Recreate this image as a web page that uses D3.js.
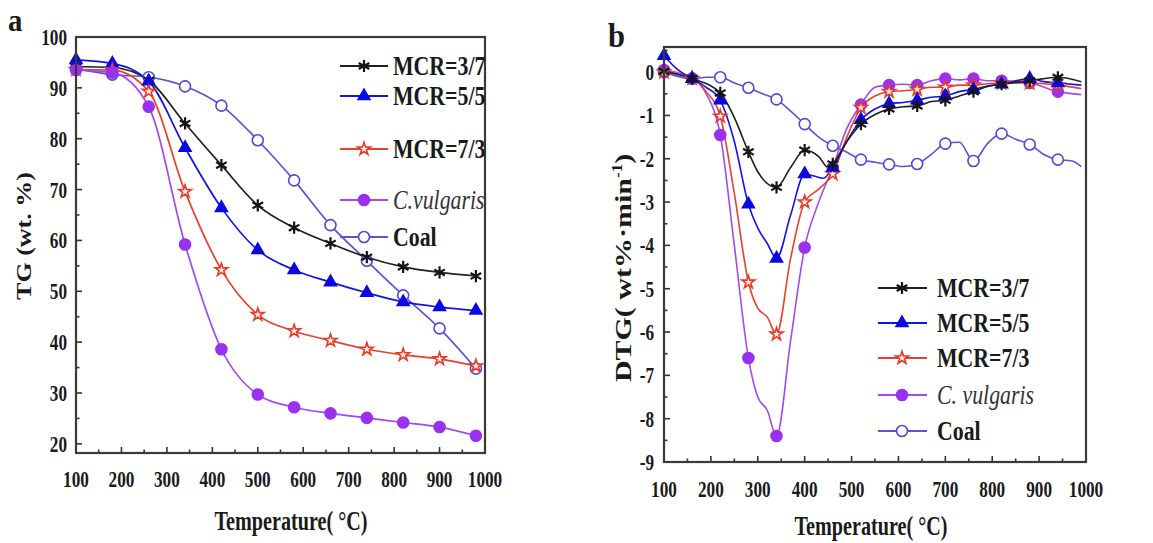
<!DOCTYPE html>
<html><head><meta charset="utf-8">
<script src="https://cdn.jsdelivr.net/npm/d3@7"></script>
<style>
body{margin:0;background:#fff;}
svg{display:block;}
text{font-family:"Liberation Serif","Times New Roman",serif;fill:#1a1a1a;}
</style>
</head><body>
<svg id="c" width="1153" height="543"></svg>
<script>
// ---------------- DATA ----------------
const seriesNamesA = ["MCR=3/7","MCR=5/5","MCR=7/3","C.vulgaris","Coal"];
const seriesNamesB = ["MCR=3/7","MCR=5/5","MCR=7/3","C. vulgaris","Coal"];

// (a) TG curves, wt.%
const tgTemps   = [100,180,260,340,420,500,580,660,740,820,900,980];
const tgMCR37   = [94.2,94.0,91.5,83.0,74.8,66.9,62.5,59.4,56.7,54.8,53.7,53.0];
const tgMCR55   = [95.5,94.8,91.3,78.2,66.4,58.1,54.2,51.8,49.7,47.9,46.9,46.2];
const tgMCR73   = [93.6,93.5,89.3,69.6,54.2,45.4,42.2,40.3,38.6,37.5,36.7,35.3];
const tgCV      = [93.5,93.0,86.3,59.2,38.6,29.7,27.2,26.0,25.1,24.2,23.3,21.6];
const tgCoal    = [93.8,92.6,92.1,90.3,86.5,79.7,71.8,63.0,56.0,49.2,42.7,34.8];

// (b) DTG curves, wt%/min  ([temperature, value])
const dtgMarkerTemps = [100,160,220,280,340,400,460,520,580,640,700,760,820,880,940];
const dtgMCR37 = [[100,0.02],[160,-0.15],[220,-0.48],[250,-1.05],[280,-1.84],[300,-2.3],[340,-2.66],[370,-2.2],[400,-1.8],[430,-1.95],[450,-2.2],[460,-2.12],[490,-1.6],[520,-1.2],[550,-0.98],[580,-0.85],[610,-0.8],[640,-0.78],[670,-0.68],[700,-0.65],[730,-0.55],[760,-0.45],[790,-0.33],[820,-0.28],[880,-0.2],[940,-0.12],[990,-0.22]];
const dtgMCR55 = [[100,0.38],[130,0.05],[160,-0.15],[190,-0.35],[220,-0.65],[250,-1.6],[280,-3.05],[300,-3.6],[320,-3.95],[340,-4.3],[370,-3.3],[400,-2.35],[420,-2.4],[440,-2.45],[460,-2.2],[490,-1.6],[520,-1.1],[550,-0.85],[580,-0.73],[610,-0.7],[640,-0.65],[670,-0.58],[700,-0.55],[730,-0.45],[760,-0.4],[790,-0.32],[820,-0.28],[850,-0.2],[880,-0.15],[910,-0.22],[940,-0.25],[990,-0.3]];
const dtgMCR73 = [[100,0.0],[160,-0.15],[190,-0.45],[220,-1.02],[250,-2.8],[280,-4.85],[300,-5.45],[320,-5.65],[340,-6.05],[370,-4.3],[400,-3.0],[430,-2.7],[460,-2.35],[490,-1.5],[520,-0.82],[550,-0.55],[580,-0.45],[610,-0.43],[640,-0.4],[670,-0.35],[700,-0.35],[730,-0.3],[760,-0.3],[790,-0.27],[820,-0.25],[880,-0.25],[940,-0.3],[990,-0.38]];
const dtgCV    = [[100,0.05],[160,-0.15],[190,-0.5],[220,-1.45],[250,-4.0],[280,-6.6],[300,-7.5],[320,-7.8],[340,-8.4],[370,-6.2],[400,-4.05],[430,-3.0],[460,-2.2],[490,-1.3],[520,-0.75],[550,-0.35],[580,-0.3],[610,-0.28],[640,-0.3],[670,-0.2],[700,-0.15],[730,-0.18],[760,-0.15],[790,-0.2],[820,-0.2],[880,-0.25],[940,-0.45],[990,-0.52]];
const dtgCoal  = [[100,0.0],[160,-0.15],[190,-0.12],[220,-0.12],[250,-0.25],[280,-0.36],[310,-0.5],[340,-0.63],[370,-0.9],[400,-1.2],[430,-1.5],[460,-1.7],[490,-1.85],[520,-2.02],[550,-2.08],[580,-2.13],[610,-2.18],[640,-2.12],[670,-1.9],[700,-1.65],[730,-1.62],[760,-2.05],[790,-1.65],[820,-1.42],[850,-1.55],[880,-1.67],[910,-1.9],[940,-2.02],[970,-2.05],[990,-2.18]];

const xTicks = [100,200,300,400,500,600,700,800,900,1000];
const tgYTicks = [20,30,40,50,60,70,80,90,100];
const dtgYTicks = [-9,-8,-7,-6,-5,-4,-3,-2,-1,0];

// ---------------- STYLE ----------------
const lineColors   = ["#202020","#1212e6","#e8402c","#a548f2","#5b52da"];
const markerColors = ["#151515","#0a0ae0","#e83a28","#9a30f0","#5048d8"];
const markerFills  = ["none","#0a0ae0","#fff4f0","#9a30f0","#ffffff"];
const symbols = [d3.symbolAsterisk, d3.symbolTriangle, d3.symbolStar, d3.symbolCircle, d3.symbolCircle];
const symSizes = [105, 62, 50, 95, 95];

const svg = d3.select("#c");

function ctext(g, x, y, str, size, anchor, sx, opts) {
  opts = opts || {};
  const t = g.append("text")
    .attr("transform", `translate(${x},${y}) scale(${sx},1)`)
    .attr("text-anchor", anchor)
    .style("font-size", size + "px")
    .style("font-weight", opts.weight || "bold")
    .style("font-style", opts.style || "normal")
    .text(str);
  if (opts.fill) t.style("fill", opts.fill);
  return t;
}

function drawMarker(g, i, x, y) {
  g.append("path")
    .attr("d", d3.symbol().type(symbols[i]).size(symSizes[i])())
    .attr("transform", `translate(${x},${y})`)
    .attr("fill", markerFills[i])
    .attr("stroke", markerColors[i])
    .attr("stroke-width", i === 0 ? 2.2 : 1.6);
}

function frameAndAxes(g, x, y, yTicks, yMinor, xMinor) {
  const [x0, x1] = x.range(), [y0, y1] = y.range();
  xTicks.forEach(v => g.append("line").attr("x1", x(v)).attr("x2", x(v)).attr("y1", y0).attr("y2", y0 - 6).attr("stroke", "#333").attr("stroke-width", 1.6));
  xMinor.forEach(v => g.append("line").attr("x1", x(v)).attr("x2", x(v)).attr("y1", y0).attr("y2", y0 - 3.5).attr("stroke", "#333").attr("stroke-width", 1.6));
  yTicks.forEach(v => g.append("line").attr("x1", x0).attr("x2", x0 + 6).attr("y1", y(v)).attr("y2", y(v)).attr("stroke", "#333").attr("stroke-width", 1.6));
  yMinor.forEach(v => g.append("line").attr("x1", x0).attr("x2", x0 + 3.5).attr("y1", y(v)).attr("y2", y(v)).attr("stroke", "#333").attr("stroke-width", 1.6));
  g.append("rect").attr("x", x0).attr("y", y1).attr("width", x1 - x0).attr("height", y0 - y1)
    .attr("fill", "none").attr("stroke", "#3a3a3a").attr("stroke-width", 2.2);
}

// ---------------- PANEL A ----------------
(function(){
  const g = svg.append("g");
  const x = d3.scaleLinear().domain([100, 1000]).range([76, 485]);
  const y = d3.scaleLinear().domain([18.2, 100]).range([453, 37]);
  const series = [tgMCR37, tgMCR55, tgMCR73, tgCV, tgCoal];
  const line = d3.line().x(d => x(d[0])).y(d => y(d[1])).curve(d3.curveMonotoneX);
  const order = [4, 0, 1, 2, 3];
  order.forEach(i => {
    const pts = tgTemps.map((t, k) => [t, series[i][k]]);
    g.append("path").attr("d", line(pts)).attr("fill", "none").attr("stroke", lineColors[i]).attr("stroke-width", 1.7);
  });
  order.forEach(i => {
    tgTemps.forEach((t, k) => drawMarker(g, i, x(t), y(series[i][k])));
  });
  frameAndAxes(g, x, y, tgYTicks, d3.range(25, 100, 10), d3.range(150, 1000, 100));
  tgYTicks.forEach(v => ctext(g, 67, y(v) + 8, String(v), 23, "end", 0.75));
  xTicks.forEach(v => ctext(g, x(v), 487, String(v), 23, "middle", 0.75));
  ctext(g, 291, 530, "Temperature( °C)", 28, "middle", 0.72);
  g.append("text").attr("transform", "translate(31,236) rotate(-90) scale(1,0.8)")
    .attr("text-anchor", "middle").style("font-size", "26px").style("font-weight", "bold").text("TG (wt. %)");
  ctext(g, 8, 31, "a", 32, "start", 0.9);
  // legend
  const rows = [66, 96, 149, 200, 237];
  seriesNamesA.forEach((n, i) => {
    g.append("line").attr("x1", 340).attr("x2", 388).attr("y1", rows[i]).attr("y2", rows[i]).attr("stroke", lineColors[i]).attr("stroke-width", 2);
    drawMarker(g, i, 364, rows[i]);
    if (i === 3) ctext(g, 393, rows[i] + 9, n, 28, "start", 0.78, {weight: "normal", style: "italic", fill: "#333"});
    else ctext(g, 393, rows[i] + 9, n, 28, "start", 0.78);
  });
})();

// ---------------- PANEL B ----------------
(function(){
  const g = svg.append("g");
  const x = d3.scaleLinear().domain([100, 1000]).range([664, 1086]);
  const y = d3.scaleLinear().domain([-9, 0.58]).range([462, 47]);
  const series = [dtgMCR37, dtgMCR55, dtgMCR73, dtgCV, dtgCoal];
  const line = d3.line().x(d => x(d[0])).y(d => y(d[1])).curve(d3.curveMonotoneX);
  const order = [4, 3, 2, 1, 0];
  order.forEach(i => {
    g.append("path").attr("d", line(series[i])).attr("fill", "none").attr("stroke", lineColors[i]).attr("stroke-width", 1.6);
  });
  order.forEach(i => {
    series[i].filter(d => dtgMarkerTemps.includes(d[0])).forEach(d => drawMarker(g, i, x(d[0]), y(d[1])));
  });
  frameAndAxes(g, x, y, dtgYTicks, d3.range(-8.5, 0.6, 1), d3.range(150, 1000, 100));
  dtgYTicks.forEach(v => ctext(g, 654, y(v) + 8, String(v), 23, "end", 0.75));
  xTicks.forEach(v => ctext(g, x(v), 497, String(v), 23, "middle", 0.75));
  ctext(g, 871, 535, "Temperature( °C)", 28, "middle", 0.72);
  const t = g.append("text").attr("transform", "translate(631,268) rotate(-90) scale(1,0.8)")
    .attr("text-anchor", "middle").style("font-size", "30px").style("font-weight", "bold");
  t.append("tspan").text("DTG( wt%·min");
  t.append("tspan").attr("dy", -11).style("font-size", "17px").text("-1");
  t.append("tspan").attr("dy", 11).text(")");
  ctext(g, 608, 47, "b", 34, "start", 0.9);
  const rows = [288, 323, 358, 395, 431];
  seriesNamesB.forEach((n, i) => {
    g.append("line").attr("x1", 878).attr("x2", 927).attr("y1", rows[i]).attr("y2", rows[i]).attr("stroke", lineColors[i]).attr("stroke-width", 2);
    drawMarker(g, i, 902, rows[i]);
    if (i === 3) ctext(g, 937, rows[i] + 9, n, 28, "start", 0.78, {weight: "normal", style: "italic", fill: "#333"});
    else ctext(g, 937, rows[i] + 9, n, 28, "start", 0.78);
  });
})();
</script>
</body></html>
